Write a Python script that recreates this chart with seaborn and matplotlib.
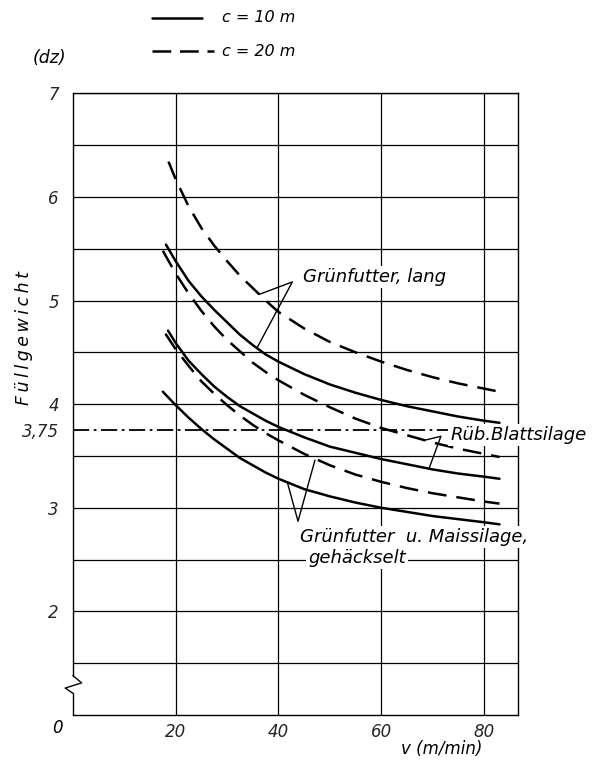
import numpy as np
import pandas as pd
import matplotlib
matplotlib.use("Agg")
import matplotlib.pyplot as plt
import seaborn as sns
from matplotlib.lines import Line2D

# ---------------- data ----------------
# Grünfutter, lang
gl20_x = [18.6, 20, 22.5, 25, 27.5, 30, 32.5, 35, 37.5, 40, 45, 50, 55, 60, 65, 70, 75, 80, 83]
gl20_y = [6.34, 6.17, 5.91, 5.70, 5.53, 5.38, 5.24, 5.12, 5.00, 4.89, 4.73, 4.60, 4.50, 4.41, 4.33, 4.26, 4.20, 4.15, 4.12]
gl10_x = [18.1, 20, 22.5, 25, 27.5, 30, 32.5, 35, 37.5, 40, 45, 50, 55, 60, 65, 70, 75, 80, 83]
gl10_y = [5.54, 5.38, 5.19, 5.04, 4.91, 4.79, 4.67, 4.57, 4.48, 4.41, 4.29, 4.19, 4.11, 4.04, 3.98, 3.93, 3.88, 3.84, 3.82]
# Rüb. Blattsilage
rb20_x = [17.5, 20, 22.5, 25, 27.5, 30, 32.5, 35, 37.5, 40, 45, 50, 55, 60, 65, 70, 75, 80, 83]
rb20_y = [5.48, 5.26, 5.07, 4.90, 4.75, 4.62, 4.51, 4.40, 4.31, 4.23, 4.09, 3.97, 3.86, 3.77, 3.70, 3.63, 3.57, 3.52, 3.49]
rb10_x = [18.5, 20, 22.5, 25, 27.5, 30, 32.5, 35, 37.5, 40, 45, 50, 55, 60, 65, 70, 75, 80, 83]
rb10_y = [4.71, 4.59, 4.42, 4.29, 4.17, 4.07, 3.98, 3.91, 3.84, 3.78, 3.68, 3.59, 3.53, 3.47, 3.42, 3.37, 3.33, 3.30, 3.28]
# Grünfutter u. Maissilage, gehäckselt
gm20_x = [18.0, 20, 22.5, 25, 27.5, 30, 32.5, 35, 37.5, 40, 45, 50, 55, 60, 65, 70, 75, 80, 83]
gm20_y = [4.68, 4.53, 4.37, 4.22, 4.10, 3.99, 3.89, 3.80, 3.72, 3.65, 3.52, 3.41, 3.32, 3.25, 3.19, 3.14, 3.10, 3.06, 3.04]
gm10_x = [17.5, 20, 22.5, 25, 27.5, 30, 32.5, 35, 37.5, 40, 45, 50, 55, 60, 65, 70, 75, 80, 83]
gm10_y = [4.12, 3.99, 3.87, 3.76, 3.66, 3.57, 3.48, 3.41, 3.34, 3.28, 3.18, 3.11, 3.05, 3.00, 2.96, 2.92, 2.89, 2.86, 2.84]

limit_value = 3.75
x_ticks = [20, 40, 60, 80]
x_ticklabels = ["20", "40", "60", "80"]
y_ticks = [2, 3, 3.75, 4, 5, 6, 7]
y_ticklabels = ["2", "3", "3,75", "4", "5", "6", "7"]
legend_labels = ["c = 10 m", "c = 20 m"]
label_gl = "Grünfutter, lang"
label_rb = "Rüb.Blattsilage"
label_gm1 = "Grünfutter  u. Maissilage,"
label_gm2 = "gehäckselt"
y_label = "Füllgewicht"
x_label = "v (m/min)"
unit_label = "(dz)"

series = [
    ("GL", "20", gl20_x, gl20_y),
    ("GL", "10", gl10_x, gl10_y),
    ("RB", "20", rb20_x, rb20_y),
    ("RB", "10", rb10_x, rb10_y),
    ("GM", "20", gm20_x, gm20_y),
    ("GM", "10", gm10_x, gm10_y),
]
df = pd.concat([pd.DataFrame({"v": x, "w": y, "prod": p, "c": c})
                for p, c, x, y in series], ignore_index=True)

# ---------------- style ----------------
sns.set_style("white")
plt.rcParams['font.family'] = ['DejaVu Sans']
plt.rcParams['font.style'] = 'italic'
plt.rcParams['text.color'] = 'black'

W, H = 607, 761
fig = plt.figure(figsize=(W / 100, H / 100), dpi=100)
ax = fig.add_axes([72.9 / W, 46 / H, (518 - 72.9) / W, (667.7 - 46) / H])
ax.set_xlim(0, 86.6)
ax.set_ylim(1.0, 7.0)

# grid
for gy in np.arange(1.5, 7.01, 0.5):
    ax.axhline(gy, color='black', lw=0.9, zorder=1)
for gx in x_ticks:
    ax.axvline(gx, color='black', lw=0.9, zorder=1)

# curves
dash20 = (7.5, 4)
for (p, c), sub in df.groupby(["prod", "c"], sort=False):
    sns.lineplot(data=sub, x="v", y="w", ax=ax, color='black', lw=1.8,
                 estimator=None, sort=False, zorder=3,
                 dashes=False, legend=False)
    line = ax.lines[-1]
    line.set_solid_joinstyle('round')
    if c == "20":
        line.set_dashes(dash20)

# limit line
ax.plot([0, 86.6], [limit_value, limit_value], color='black', lw=1.3,
        dashes=(9, 2.5, 1.5, 2.5), zorder=2)

# leader lines (annotation marks)
ax.plot([36.3, 42.7, 35.9], [5.06, 5.18, 4.55], color='black', lw=1.0, zorder=4)
ax.plot([68.3, 71.6, 69.3], [3.65, 3.69, 3.38], color='black', lw=1.0, zorder=4)
ax.plot([41.7, 43.8, 47.1], [3.25, 2.87, 3.46], color='black', lw=1.0, zorder=4)

tb = dict(facecolor='white', edgecolor='none', pad=1.5)
fs = 13
ax.text(44.8, 5.23, label_gl, fontsize=fs, ha='left', va='center', bbox=tb, zorder=5)
ax.text(73.4, 3.70, label_rb, fontsize=fs, ha='left', va='center', bbox=tb, zorder=5,
        clip_on=False)
ax.text(44.2, 2.72, label_gm1, fontsize=fs, ha='left', va='center', bbox=tb, zorder=5)
ax.text(45.8, 2.52, label_gm2, fontsize=fs, ha='left', va='center', bbox=tb, zorder=5)

# spines / break symbol on y-axis
for s in ['top', 'right', 'bottom']:
    ax.spines[s].set_color('black')
    ax.spines[s].set_linewidth(1.0)
ax.spines['left'].set_visible(False)
ax.plot([0, 0], [1.0, 1.21], color='black', lw=1.0, clip_on=False, zorder=4)
ax.plot([0, 0], [1.38, 7.0], color='black', lw=1.0, clip_on=False, zorder=4)
ax.plot([0, 1.7, -1.5, 0], [1.38, 1.31, 1.26, 1.21], color='black', lw=1.0,
        clip_on=False, zorder=4)

# ticks
ax.set_xticks(x_ticks)
ax.set_xticklabels(x_ticklabels)
ax.set_yticks(y_ticks)
ax.set_yticklabels(y_ticklabels)
ax.tick_params(axis='both', length=0, labelsize=12)
ax.tick_params(axis='x', pad=6)
ax.tick_params(axis='y', pad=10)
for t in ax.get_xticklabels() + ax.get_yticklabels():
    t.set_fontstyle('italic')
ax.set_xlabel("")
ax.set_ylabel("")

# figure texts
fig.text(57 / W, 1 - 728 / H, "0", fontsize=12, ha='center', va='center')
fig.text(442 / W, 1 - 749 / H, x_label, fontsize=12, ha='center', va='center')
fig.text(24 / W, 1 - 338 / H, "\u2009".join(y_label), fontsize=12.5, rotation=90,
         ha='center', va='center')
fig.text(33 / W, 1 - 58 / H, unit_label, fontsize=12.5, ha='left', va='center')

# legend (drawn manually)
fig.add_artist(Line2D([152 / W, 202 / W], [1 - 18 / H, 1 - 18 / H], color='black',
                      lw=1.8, transform=fig.transFigure))
fig.add_artist(Line2D([152 / W, 214 / W], [1 - 51 / H, 1 - 51 / H], color='black',
                      lw=1.8, dashes=(7.5, 3.5), transform=fig.transFigure))
fig.text(222 / W, 1 - 18 / H, legend_labels[0], fontsize=11.5, ha='left', va='center')
fig.text(222 / W, 1 - 51 / H, legend_labels[1], fontsize=11.5, ha='left', va='center')

fig.savefig("out.png", dpi=100, facecolor='white')
